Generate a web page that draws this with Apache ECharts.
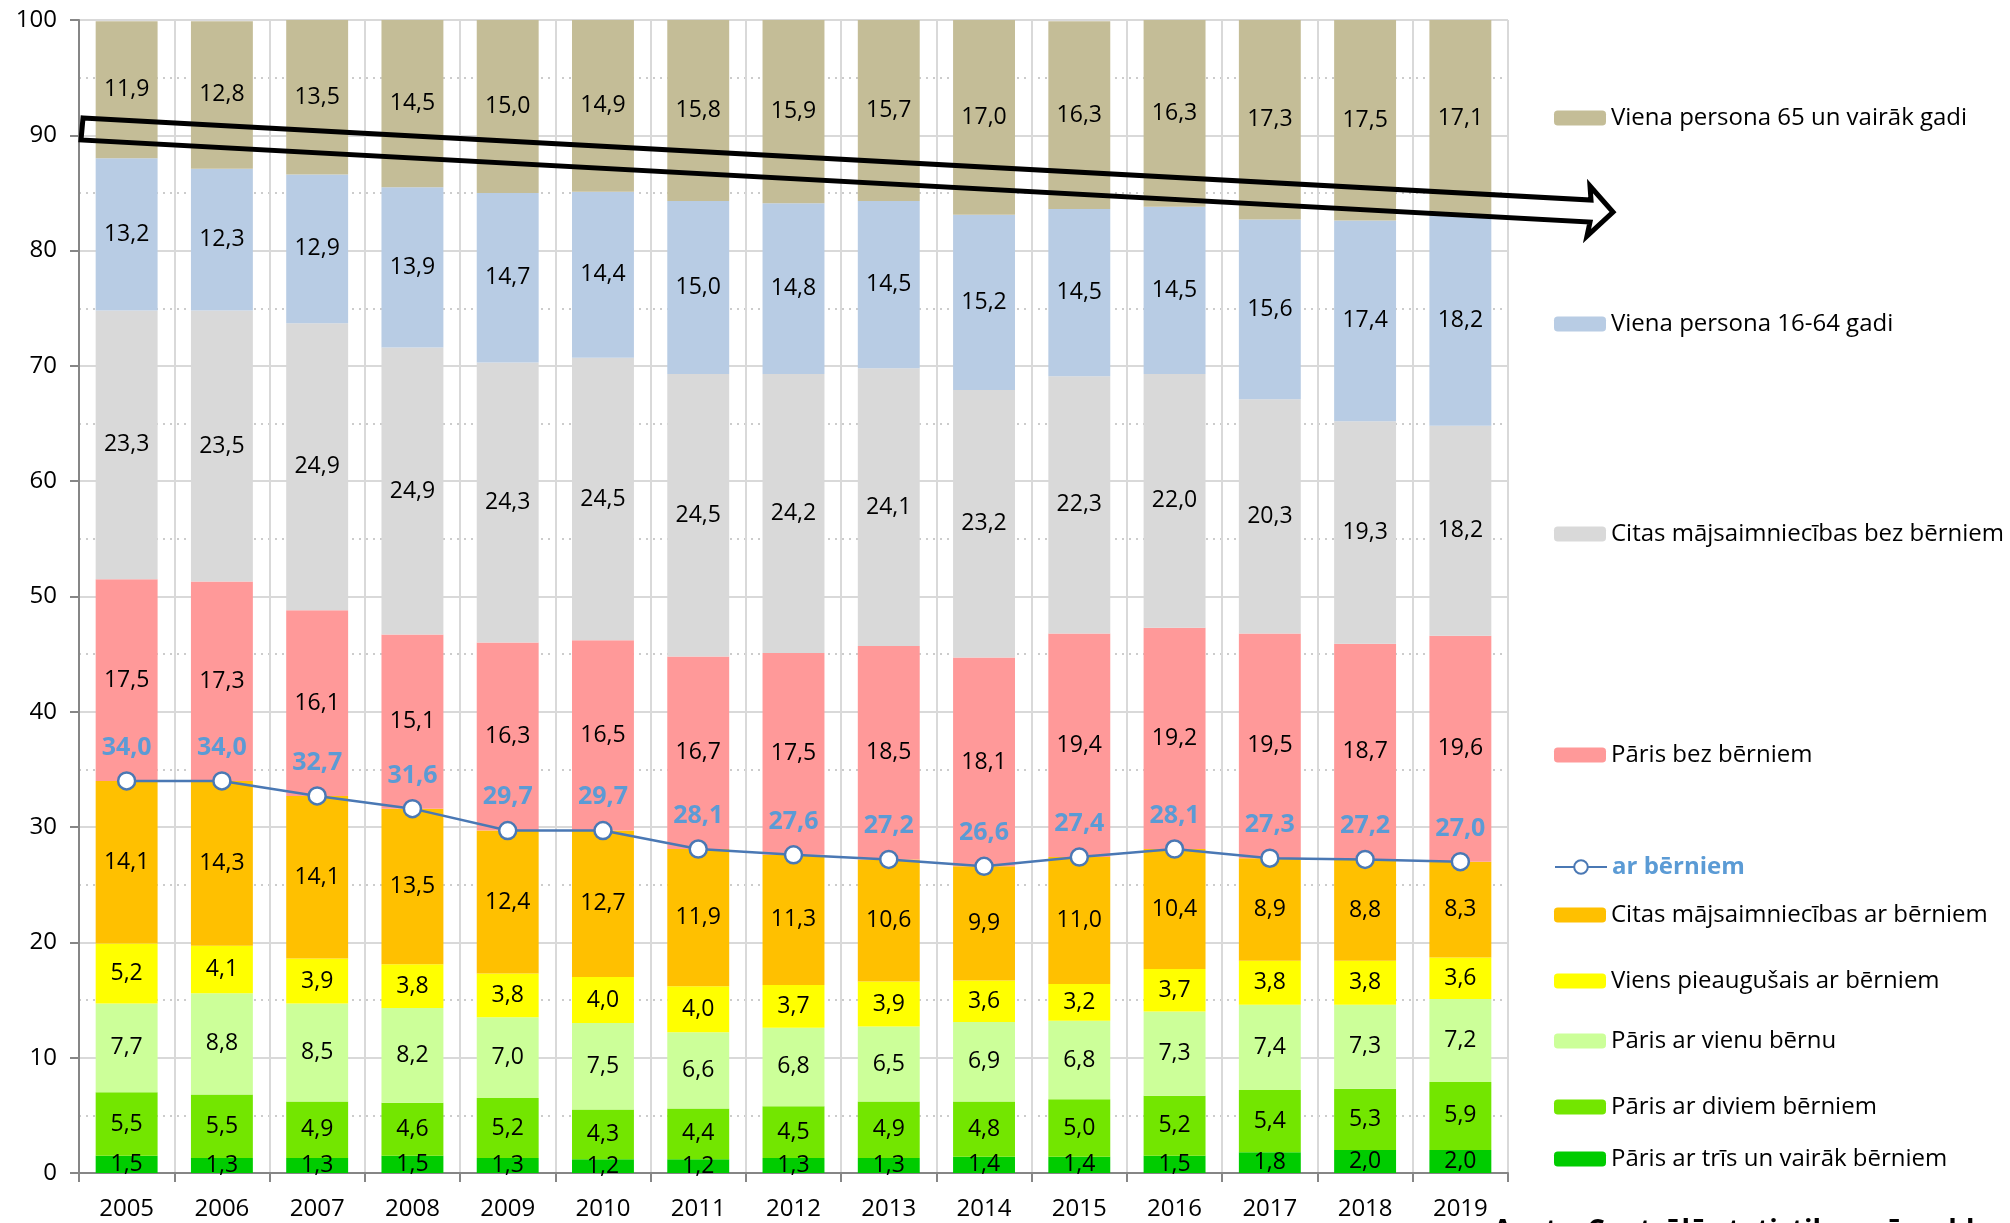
<!DOCTYPE html>
<html>
<head>
<meta charset="utf-8">
<script src="https://cdn.jsdelivr.net/npm/echarts@6/dist/echarts.min.js"></script>
<style>
  html, body { margin: 0; padding: 0; background: #fff; }
  #chart { width: 2010px; height: 1223px; }
</style>
</head>
<body>
<div id="chart"></div>
<script>
const years = ['2005','2006','2007','2008','2009','2010','2011','2012','2013','2014','2015','2016','2017','2018','2019'];
const yTicks = [0,10,20,30,40,50,60,70,80,90,100];

const parisTris    = [1.5,1.3,1.3,1.5,1.3,1.2,1.2,1.3,1.3,1.4,1.4,1.5,1.8,2.0,2.0];
const parisDiviem  = [5.5,5.5,4.9,4.6,5.2,4.3,4.4,4.5,4.9,4.8,5.0,5.2,5.4,5.3,5.9];
const parisVienu   = [7.7,8.8,8.5,8.2,7.0,7.5,6.6,6.8,6.5,6.9,6.8,7.3,7.4,7.3,7.2];
const viensPieaug  = [5.2,4.1,3.9,3.8,3.8,4.0,4.0,3.7,3.9,3.6,3.2,3.7,3.8,3.8,3.6];
const citasAr      = [14.1,14.3,14.1,13.5,12.4,12.7,11.9,11.3,10.6,9.9,11.0,10.4,8.9,8.8,8.3];
const parisBez     = [17.5,17.3,16.1,15.1,16.3,16.5,16.7,17.5,18.5,18.1,19.4,19.2,19.5,18.7,19.6];
const citasBez     = [23.3,23.5,24.9,24.9,24.3,24.5,24.5,24.2,24.1,23.2,22.3,22.0,20.3,19.3,18.2];
const viena1664    = [13.2,12.3,12.9,13.9,14.7,14.4,15.0,14.8,14.5,15.2,14.5,14.5,15.6,17.4,18.2];
const viena65      = [11.9,12.8,13.5,14.5,15.0,14.9,15.8,15.9,15.7,17.0,16.3,16.3,17.3,17.5,17.1];
const arBerniem    = [34.0,34.0,32.7,31.6,29.7,29.7,28.1,27.6,27.2,26.6,27.4,28.1,27.3,27.2,27.0];

const FONT = '"Open Sans", "Liberation Sans", sans-serif';
const fmt = v => v.toFixed(1).replace('.', ',');

const barDefs = [
  { name: 'Pāris ar trīs un vairāk bērniem', data: parisTris, color: '#00cc00' },
  { name: 'Pāris ar diviem bērniem', data: parisDiviem, color: '#73e600' },
  { name: 'Pāris ar vienu bērnu', data: parisVienu, color: '#ccff99' },
  { name: 'Viens pieaugušais ar bērniem', data: viensPieaug, color: '#ffff00' },
  { name: 'Citas mājsaimniecības ar bērniem', data: citasAr, color: '#ffc000' },
  { name: 'Pāris bez bērniem', data: parisBez, color: '#ff9999' },
  { name: 'Citas mājsaimniecības bez bērniem', data: citasBez, color: '#d9d9d9' },
  { name: 'Viena persona 16-64 gadi', data: viena1664, color: '#b8cce4' },
  { name: 'Viena persona 65 un vairāk gadi', data: viena65, color: '#c4bd97' }
];
const lineName = 'ar bērniem';

const series = barDefs.map(d => ({
  name: d.name,
  type: 'bar',
  stack: 'total',
  barWidth: '65%',
  data: d.data,
  itemStyle: { color: d.color },
  label: {
    show: true,
    position: 'inside',
    color: '#000',
    fontFamily: FONT,
    fontSize: 23,
    formatter: p => fmt(p.value)
  },
  emphasis: { disabled: true }
}));
series.push({
  name: lineName,
  type: 'line',
  data: arBerniem,
  z: 10,
  symbol: 'circle',
  symbolSize: 17,
  lineStyle: { color: '#4a78b4', width: 2.5 },
  itemStyle: { color: '#ffffff', borderColor: '#4a78b4', borderWidth: 2.5 },
  label: {
    show: true,
    position: 'top',
    distance: 11,
    color: '#5b9bd5',
    fontFamily: FONT,
    fontWeight: 'bold',
    fontSize: 25,
    formatter: p => fmt(p.value)
  },
  emphasis: { disabled: true }
});

// legend entries: [series name, vertical centre in px]
const legendRows = [
  ['Viena persona 65 un vairāk gadi', 117],
  ['Viena persona 16-64 gadi', 323],
  ['Citas mājsaimniecības bez bērniem', 533],
  ['Pāris bez bērniem', 754],
  [lineName, 866],
  ['Citas mājsaimniecības ar bērniem', 914],
  ['Viens pieaugušais ar bērniem', 980],
  ['Pāris ar vienu bērnu', 1040],
  ['Pāris ar diviem bērniem', 1106],
  ['Pāris ar trīs un vairāk bērniem', 1158]
];
const legends = legendRows.map(([n, cy]) => ({
  data: [n],
  left: 1549,
  top: cy - 16,
  orient: 'vertical',
  itemWidth: 52,
  itemHeight: n === lineName ? 17 : 15,
  selectedMode: false,
  textStyle: n === lineName
    ? { color: '#5b9bd5', fontWeight: 'bold', fontFamily: FONT, fontSize: 24 }
    : { color: '#000', fontFamily: FONT, fontSize: 24 }
}));

const chart = echarts.init(document.getElementById('chart'), null, { renderer: 'canvas' });
chart.setOption({
  animation: false,
  backgroundColor: '#ffffff',
  grid: { left: 79, right: 502, top: 20, bottom: 50, containLabel: false },
  legend: legends,
  xAxis: {
    type: 'category',
    data: years,
    boundaryGap: true,
    axisLine: { show: true, lineStyle: { color: '#868686', width: 2 } },
    axisTick: { show: true, length: 9, lineStyle: { color: '#868686', width: 2 } },
    axisLabel: { color: '#000', fontFamily: FONT, fontSize: 24, margin: 24 },
    splitLine: { show: true, lineStyle: { color: '#d9d9d9', width: 2 } }
  },
  yAxis: {
    type: 'value',
    min: yTicks[0],
    max: yTicks[yTicks.length - 1],
    interval: 10,
    axisLine: { show: true, lineStyle: { color: '#868686', width: 2 } },
    axisTick: { show: true, length: 9, lineStyle: { color: '#868686', width: 2 } },
    axisLabel: { color: '#000', fontFamily: FONT, fontSize: 24, margin: 22 },
    splitLine: { show: true, lineStyle: { color: '#d9d9d9', width: 2 } },
    minorTick: { show: false, splitNumber: 2 },
    minorSplitLine: { show: true, lineStyle: { color: '#cccccc', width: 2, type: [2, 5] } }
  },
  graphic: [
    {
      type: 'polygon',
      z: 100,
      shape: {
        points: [[83, 118], [1591, 200], [1590, 186], [1613, 212], [1587, 236], [1590, 222], [81, 140]]
      },
      style: { fill: 'none', stroke: '#000', lineWidth: 5, lineJoin: 'miter' },
      silent: true
    },
    {
      type: 'text',
      left: 1493,
      top: 1218,
      z: 100,
      style: {
        text: 'Avots: Centrālā statistikas pārvalde',
        fill: '#000',
        font: 'bold 28px ' + FONT
      },
      silent: true
    }
  ],
  series: series
});
</script>
</body>
</html>
